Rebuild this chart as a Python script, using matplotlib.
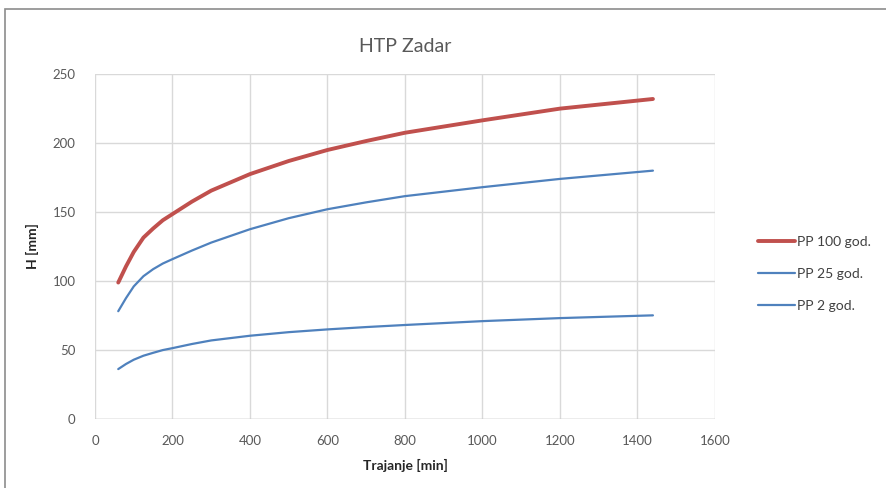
import matplotlib
matplotlib.use("Agg")
import matplotlib.pyplot as plt
from matplotlib.patches import Rectangle

# durations [min] and rainfall heights [mm]
trajanje = [60, 80, 100, 125, 150, 175, 200, 250, 300, 400, 500, 600, 700, 800, 1000, 1200, 1440]
pp100 = [98.8, 110.5, 121, 131.4, 138, 144, 148.5, 157.5, 165.5, 177.5, 187, 195, 201.5, 207.5, 216.5, 225, 232]
pp25 = [78, 87.5, 96, 103.4, 108.5, 112.6, 115.8, 122, 127.8, 137.5, 145.5, 152, 157, 161.5, 168, 174, 180]
pp2 = [36, 39.7, 42.8, 45.7, 47.8, 49.8, 51.2, 54.2, 56.8, 60.2, 62.8, 64.8, 66.5, 68, 70.8, 73, 75]

x_ticks = [0, 200, 400, 600, 800, 1000, 1200, 1400, 1600]
y_ticks = [0, 50, 100, 150, 200, 250]

RED = "#C0504D"
BLUE = "#4F81BD"
GRID = "#D9D9D9"
TXT = "#595959"

plt.rcParams["font.family"] = ["Lato", "DejaVu Sans"]

fig = plt.figure(figsize=(8.87, 4.88), dpi=100)
ax = fig.add_axes([0.1071, 0.142, 0.806 - 0.1071, 0.848 - 0.142])

# outer chart border (cropped at right/bottom like the screenshot)
fig.patches.append(Rectangle((5 / 887, -0.1), 1.2, 1 - 9 / 488 + 0.1,
                             transform=fig.transFigure, fill=False,
                             edgecolor="#8C8C8C", linewidth=1.2))

ax.plot(trajanje, pp100, color=RED, linewidth=2.8, label="PP 100 god.",
        solid_capstyle="round", solid_joinstyle="round")
ax.plot(trajanje, pp25, color=BLUE, linewidth=1.6, label="PP 25 god.",
        solid_capstyle="round", solid_joinstyle="round")
ax.plot(trajanje, pp2, color=BLUE, linewidth=1.6, label="PP 2 god.",
        solid_capstyle="round", solid_joinstyle="round")

ax.set_xlim(0, 1600)
ax.set_ylim(0, 250)
ax.set_xticks(x_ticks)
ax.set_yticks(y_ticks)
ax.grid(True, color=GRID, linewidth=1.0)
ax.set_axisbelow(True)
for s in ax.spines.values():
    s.set_visible(False)
ax.axhline(0, color="#BFBFBF", linewidth=1.0, zorder=1)
ax.tick_params(length=0, labelsize=9.5, labelcolor=TXT)
ax.tick_params(axis="x", pad=12)
ax.tick_params(axis="y", pad=14)

ax.set_title("HTP Zadar", fontsize=14, color=TXT, pad=16)
ax.set_xlabel("Trajanje [min]", fontsize=10, fontweight="bold", color="#262626", labelpad=8)
ax.set_ylabel("H [mm]", fontsize=10, fontweight="bold", color="#262626", labelpad=10)

leg = ax.legend(loc="center left", bbox_to_anchor=(1.05, 0.42), frameon=False,
                fontsize=10, handlelength=2.6, handletextpad=0.2, labelspacing=1.45)
for t in leg.get_texts():
    t.set_color("#404040")

fig.savefig("out.png", dpi=100)
